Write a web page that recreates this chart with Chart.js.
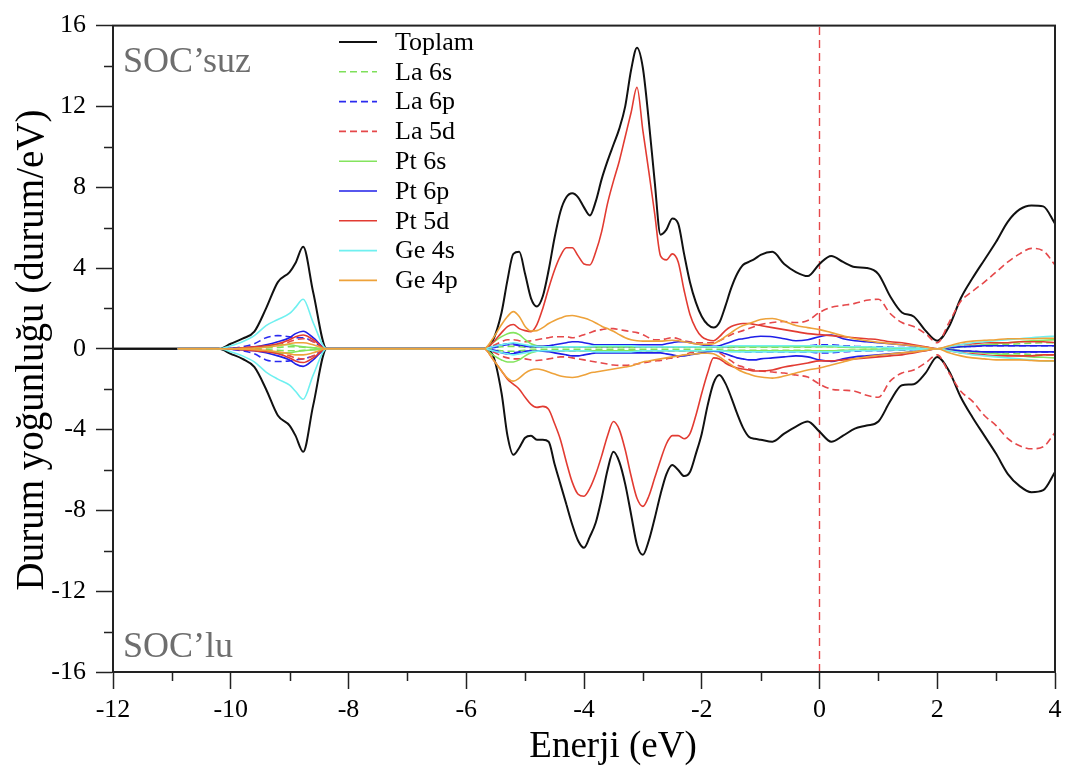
<!DOCTYPE html>
<html lang="tr">
<head>
<meta charset="UTF-8">
<title>Durum yoğunluğu</title>
<script src="https://cdn.jsdelivr.net/npm/chart.js"></script>
<style>
  html, body { margin: 0; padding: 0; background: #fff; }
  #wrap { width: 1072px; height: 773px; }
</style>
</head>
<body>
<div id="wrap"><canvas id="dos"></canvas></div>
<script>
// enerji ekseni (eV) - rows: valence band | -5.7..-1.0 | -0.8..4.0
const energy = [
  -12, -10.9, -10.2, -10.0, -9.8, -9.6, -9.4, -9.2, -9.0, -8.9, -8.77, -8.6, -8.37,
  -5.7, -5.55, -5.4, -5.3,
  -5.2, -5.1, -5.0, -4.9, -4.8, -4.7, -4.6, -4.5, -4.4, -4.3,
  -4.2, -4.1, -4.0, -3.9, -3.8, -3.7, -3.6, -3.5, -3.4, -3.3,
  -3.2, -3.1, -3.0, -2.9, -2.8, -2.7, -2.6, -2.5, -2.4, -2.3,
  -2.2, -2.1, -2.0, -1.9, -1.8, -1.7, -1.6, -1.5, -1.4, -1.3,
  -1.2, -1.1, -1.0,
  -0.8, -0.6, -0.4, -0.2, 0.0, 0.2, 0.4, 0.6, 0.8, 1.0,
  1.2, 1.4, 1.6, 1.8, 2.0, 2.2, 2.4, 2.6, 2.8, 3.0,
  3.2, 3.4, 3.6, 3.8, 4.0
];

// SOC'suz (yukari) / SOC'lu (asagi, negatif)
const toplamUp = [
  0, 0, 0, 0.25, 0.5, 0.85, 2.0, 3.3, 3.8, 4.25, 5.05, 2.8, 0,
  0, 0.4, 1.8, 3.4,
  4.7, 4.8, 3.7, 2.5, 2.1, 2.6, 3.9, 5.5, 6.8, 7.5,
  7.7, 7.5, 7.0, 6.6, 7.3, 8.4, 9.3, 10.1, 10.9, 12.0,
  13.8, 14.9, 13.9, 11.3, 8.3, 5.65, 5.9, 6.45, 6.2, 4.7,
  3.3, 2.3, 1.6, 1.2, 1.05, 1.3, 2.1, 3.0, 3.7, 4.15,
  4.3, 4.45, 4.65,
  4.8, 4.2, 3.8, 3.6, 4.2, 4.6, 4.3, 4.05, 4.0, 3.7,
  2.6, 1.8, 1.6, 0.9, 0.4, 1.1, 2.5, 3.5, 4.4, 5.3,
  6.3, 6.9, 7.1, 7.05, 6.2
];
const toplamDn = [
  0, 0, 0, -0.25, -0.5, -0.9, -2.0, -3.3, -3.8, -4.3, -5.1, -2.8, 0,
  0, -0.3, -2.2, -4.3,
  -5.25, -4.9, -4.4, -4.3, -4.5, -4.5, -4.6, -5.7, -6.7, -7.7,
  -8.7, -9.5, -9.85, -9.3, -8.6, -7.4, -6.0, -5.1, -5.6, -6.7,
  -8.2, -9.7, -10.2, -9.5, -8.4, -7.2, -6.2, -5.75, -6.0, -6.3,
  -6.1, -5.2, -4.2, -2.8, -1.7, -1.3, -1.7, -2.4, -3.2, -3.9,
  -4.35, -4.45, -4.5,
  -4.6, -4.2, -3.85, -3.6, -4.1, -4.6, -4.3, -3.95, -3.8, -3.6,
  -2.6, -1.8, -1.75, -1.2, -0.4, -1.1, -2.4, -3.4, -4.3, -5.2,
  -6.2, -6.8, -7.1, -7.0, -6.1
];

const la6sUp = [
  null, 0, 0, 0, 0.01, 0.02, 0.04, 0.07, 0.1, 0.1, 0.08, 0.05, 0,
  0, 0.05, 0.1, 0.12,
  0.12, 0.1, 0.08, 0.06, 0.05, 0.05, 0.05, 0.05, 0.05, 0.05,
  0.05, 0.05, 0.05, 0.05, 0.05, 0.05, 0.05, 0.05, 0.05, 0.05,
  0.05, 0.05, 0.05, 0.05, 0.05, 0.05, 0.05, 0.05, 0.05, 0.05,
  0.05, 0.05, 0.05, 0.05, 0.05, 0.05, 0.06, 0.07, 0.08, 0.08,
  0.08, 0.08, 0.08,
  0.08, 0.08, 0.08, 0.08, 0.1, 0.1, 0.08, 0.07, 0.06, 0.05,
  0.04, 0.03, 0.02, 0.01, 0, 0.05, 0.1, 0.15, 0.18, 0.2,
  0.22, 0.25, 0.28, 0.3, 0.3
];
const la6sDn = [
  null, 0, 0, 0, -0.01, -0.02, -0.04, -0.07, -0.1, -0.1, -0.08, -0.05, 0,
  0, -0.05, -0.1, -0.12,
  -0.12, -0.1, -0.08, -0.06, -0.05, -0.05, -0.05, -0.05, -0.05, -0.05,
  -0.05, -0.05, -0.05, -0.05, -0.05, -0.05, -0.05, -0.05, -0.05, -0.05,
  -0.05, -0.05, -0.05, -0.05, -0.05, -0.05, -0.05, -0.05, -0.05, -0.05,
  -0.05, -0.05, -0.05, -0.05, -0.05, -0.05, -0.06, -0.07, -0.08, -0.08,
  -0.08, -0.08, -0.08,
  -0.08, -0.08, -0.08, -0.08, -0.1, -0.1, -0.08, -0.07, -0.06, -0.05,
  -0.04, -0.03, -0.02, -0.01, 0, -0.05, -0.1, -0.15, -0.18, -0.2,
  -0.22, -0.25, -0.28, -0.3, -0.3
];

const la6pUp = [
  null, 0, 0, 0.03, 0.1, 0.25, 0.55, 0.65, 0.6, 0.55, 0.55, 0.35, 0,
  0, 0.05, 0.15, 0.2,
  0.2, 0.15, 0.12, 0.1, 0.1, 0.1, 0.1, 0.1, 0.1, 0.1,
  0.1, 0.1, 0.1, 0.1, 0.1, 0.1, 0.1, 0.1, 0.1, 0.1,
  0.1, 0.1, 0.1, 0.1, 0.1, 0.1, 0.1, 0.1, 0.1, 0.1,
  0.1, 0.1, 0.1, 0.1, 0.1, 0.1, 0.1, 0.1, 0.12, 0.15,
  0.15, 0.15, 0.15,
  0.15, 0.15, 0.15, 0.15, 0.2, 0.2, 0.15, 0.12, 0.1, 0.1,
  0.08, 0.06, 0.05, 0.03, 0, 0.05, 0.1, 0.12, 0.15, 0.15,
  0.15, 0.15, 0.15, 0.15, 0.15
];
const la6pDn = [
  null, 0, 0, -0.03, -0.1, -0.25, -0.55, -0.63, -0.6, -0.55, -0.5, -0.35, 0,
  0, -0.05, -0.15, -0.2,
  -0.2, -0.15, -0.12, -0.1, -0.1, -0.1, -0.1, -0.1, -0.1, -0.1,
  -0.1, -0.1, -0.1, -0.1, -0.1, -0.1, -0.1, -0.1, -0.1, -0.1,
  -0.1, -0.1, -0.1, -0.1, -0.1, -0.1, -0.1, -0.1, -0.1, -0.1,
  -0.1, -0.1, -0.1, -0.1, -0.1, -0.1, -0.1, -0.1, -0.12, -0.15,
  -0.15, -0.15, -0.15,
  -0.15, -0.15, -0.15, -0.15, -0.2, -0.2, -0.15, -0.12, -0.1, -0.1,
  -0.08, -0.06, -0.05, -0.03, 0, -0.05, -0.1, -0.12, -0.15, -0.15,
  -0.15, -0.15, -0.15, -0.15, -0.15
];

const la5dUp = [
  null, 0, 0, 0, 0.02, 0.05, 0.1, 0.2, 0.35, 0.45, 0.5, 0.35, 0,
  0, 0.15, 0.35, 0.45,
  0.45, 0.4, 0.35, 0.4, 0.45, 0.5, 0.55, 0.6, 0.6, 0.6,
  0.55, 0.6, 0.7, 0.8, 0.9, 0.95, 1.0, 1.0, 0.95, 0.9,
  0.85, 0.8, 0.7, 0.55, 0.45, 0.45, 0.5, 0.55, 0.5, 0.4,
  0.35, 0.3, 0.3, 0.3, 0.3, 0.4, 0.55, 0.7, 0.8, 0.9,
  1.0, 1.1, 1.2,
  1.3, 1.35, 1.3, 1.4, 1.8, 2.05, 2.15, 2.25, 2.4, 2.45,
  1.75, 1.3, 1.1, 0.75, 0.3, 1.3, 2.35, 2.85, 3.3, 3.8,
  4.3, 4.7, 4.97, 4.85, 4.15
];
const la5dDn = [
  null, 0, 0, 0, -0.02, -0.05, -0.1, -0.2, -0.35, -0.45, -0.5, -0.35, 0,
  0, -0.15, -0.35, -0.45,
  -0.5, -0.5, -0.5, -0.55, -0.58, -0.55, -0.5, -0.45, -0.4, -0.4,
  -0.45, -0.5, -0.55, -0.6, -0.65, -0.7, -0.75, -0.8, -0.82, -0.82,
  -0.8, -0.75, -0.7, -0.65, -0.6, -0.58, -0.5, -0.45, -0.4, -0.3,
  -0.2, -0.15, -0.1, -0.1, -0.1, -0.2, -0.4, -0.6, -0.8, -0.9,
  -1.0, -1.05, -1.1,
  -1.15, -1.2, -1.3, -1.4, -1.75, -2.0, -2.05, -2.1, -2.3, -2.4,
  -1.6, -1.2, -1.05, -0.7, -0.3, -1.2, -2.1, -2.6, -3.3, -3.8,
  -4.45, -4.8, -4.95, -4.85, -4.15
];

const pt6sUp = [
  null, 0, 0, 0.01, 0.03, 0.06, 0.12, 0.2, 0.2, 0.15, 0.1, 0.05, 0,
  0, 0.3, 0.6, 0.75,
  0.8, 0.7, 0.45, 0.25, 0.15, 0.12, 0.1, 0.1, 0.1, 0.1,
  0.1, 0.1, 0.1, 0.1, 0.1, 0.1, 0.1, 0.1, 0.1, 0.1,
  0.1, 0.1, 0.1, 0.1, 0.1, 0.1, 0.1, 0.1, 0.1, 0.1,
  0.1, 0.1, 0.1, 0.1, 0.1, 0.1, 0.1, 0.1, 0.1, 0.1,
  0.1, 0.1, 0.1,
  0.1, 0.1, 0.1, 0.1, 0.1, 0.1, 0.08, 0.07, 0.06, 0.05,
  0.04, 0.03, 0.02, 0.01, 0, 0.05, 0.1, 0.15, 0.2, 0.25,
  0.3, 0.35, 0.4, 0.42, 0.45
];
const pt6sDn = [
  null, 0, 0, -0.01, -0.03, -0.06, -0.12, -0.2, -0.2, -0.15, -0.1, -0.05, 0,
  0, -0.3, -0.55, -0.65,
  -0.65, -0.55, -0.35, -0.2, -0.12, -0.1, -0.1, -0.1, -0.1, -0.1,
  -0.1, -0.1, -0.1, -0.1, -0.1, -0.1, -0.1, -0.1, -0.1, -0.1,
  -0.1, -0.1, -0.1, -0.1, -0.1, -0.1, -0.1, -0.1, -0.1, -0.1,
  -0.1, -0.1, -0.1, -0.1, -0.1, -0.1, -0.1, -0.1, -0.1, -0.1,
  -0.1, -0.1, -0.1,
  -0.1, -0.1, -0.1, -0.1, -0.1, -0.1, -0.08, -0.07, -0.06, -0.05,
  -0.04, -0.03, -0.02, -0.01, 0, -0.05, -0.1, -0.15, -0.2, -0.25,
  -0.3, -0.35, -0.4, -0.42, -0.45
];

const pt6pUp = [
  null, 0, 0, 0.02, 0.05, 0.1, 0.2, 0.35, 0.55, 0.75, 0.87, 0.55, 0,
  0, 0.1, 0.2, 0.25,
  0.25, 0.2, 0.15, 0.12, 0.12, 0.12, 0.15, 0.2, 0.25, 0.3,
  0.35, 0.35, 0.3, 0.25, 0.2, 0.2, 0.2, 0.2, 0.2, 0.2,
  0.2, 0.2, 0.2, 0.2, 0.2, 0.2, 0.25, 0.3, 0.35, 0.35,
  0.3, 0.25, 0.2, 0.15, 0.12, 0.15, 0.25, 0.35, 0.45, 0.5,
  0.55, 0.6, 0.62,
  0.6, 0.5, 0.4, 0.45, 0.6, 0.68, 0.5, 0.4, 0.35, 0.3,
  0.25, 0.2, 0.15, 0.08, 0, 0.05, 0.1, 0.12, 0.15, 0.15,
  0.15, 0.15, 0.15, 0.15, 0.15
];
const pt6pDn = [
  null, 0, 0, -0.02, -0.05, -0.1, -0.2, -0.35, -0.55, -0.75, -0.87, -0.55, 0,
  0, -0.1, -0.2, -0.25,
  -0.25, -0.2, -0.15, -0.12, -0.12, -0.12, -0.15, -0.2, -0.25, -0.3,
  -0.35, -0.35, -0.3, -0.25, -0.2, -0.2, -0.2, -0.2, -0.2, -0.2,
  -0.2, -0.2, -0.2, -0.2, -0.2, -0.2, -0.25, -0.3, -0.35, -0.35,
  -0.3, -0.25, -0.2, -0.15, -0.12, -0.15, -0.25, -0.35, -0.45, -0.5,
  -0.55, -0.55, -0.5,
  -0.45, -0.4, -0.35, -0.4, -0.55, -0.63, -0.5, -0.4, -0.35, -0.3,
  -0.25, -0.2, -0.15, -0.08, 0, -0.05, -0.1, -0.12, -0.15, -0.15,
  -0.15, -0.15, -0.15, -0.15, -0.15
];

const pt5dUp = [
  null, 0, 0, 0.01, 0.05, 0.1, 0.15, 0.25, 0.45, 0.6, 0.68, 0.45, 0,
  0, 0.3, 0.8, 1.1,
  1.2, 1.0, 0.9, 0.85, 1.2, 2.0, 3.0, 3.9, 4.6, 5.0,
  5.0, 4.6, 4.2, 4.15, 4.8, 5.8, 7.2, 8.3, 9.3, 10.5,
  11.7, 12.95, 10.8, 8.8, 6.7, 4.6, 4.4, 4.7, 4.3, 2.9,
  1.7, 1.0, 0.6, 0.45, 0.4, 0.6, 0.9, 1.1, 1.2, 1.25,
  1.25, 1.2, 1.15,
  1.05, 0.95, 0.85, 0.75, 0.7, 0.65, 0.6, 0.55, 0.5, 0.45,
  0.35, 0.3, 0.2, 0.1, 0, 0.1, 0.2, 0.25, 0.3, 0.3,
  0.3, 0.35, 0.35, 0.35, 0.3
];
const pt5dDn = [
  null, 0, 0, -0.01, -0.05, -0.1, -0.15, -0.25, -0.45, -0.6, -0.68, -0.45, 0,
  0, -0.5, -1.1, -1.5,
  -1.75, -2.0, -2.4, -2.75, -2.9, -2.85, -3.0, -3.7, -4.5, -5.6,
  -6.6, -7.2, -7.3, -6.9, -6.2, -5.3, -4.3, -3.6, -4.0, -5.0,
  -6.3, -7.4, -7.8, -7.3, -6.4, -5.5, -4.7, -4.3, -4.3, -4.45,
  -4.2, -3.3, -2.2, -1.2, -0.45, -0.5, -0.7, -0.85, -0.95, -1.0,
  -1.05, -1.1, -1.1,
  -1.05, -0.9, -0.8, -0.7, -0.6, -0.6, -0.55, -0.5, -0.45, -0.4,
  -0.35, -0.3, -0.2, -0.1, 0, -0.1, -0.2, -0.25, -0.3, -0.35,
  -0.35, -0.35, -0.35, -0.3, -0.3
];

const ge4sUp = [
  null, 0, 0, 0.15, 0.35, 0.65, 1.15, 1.45, 1.75, 2.05, 2.45, 1.3, 0,
  0, 0.1, 0.2, 0.25,
  0.3, 0.25, 0.2, 0.15, 0.12, 0.1, 0.1, 0.1, 0.1, 0.1,
  0.1, 0.1, 0.1, 0.12, 0.15, 0.15, 0.15, 0.15, 0.15, 0.15,
  0.15, 0.12, 0.1, 0.1, 0.1, 0.1, 0.1, 0.1, 0.1, 0.1,
  0.1, 0.1, 0.1, 0.1, 0.1, 0.1, 0.12, 0.15, 0.15, 0.15,
  0.15, 0.15, 0.15,
  0.15, 0.15, 0.15, 0.15, 0.15, 0.15, 0.12, 0.1, 0.1, 0.08,
  0.06, 0.05, 0.04, 0.02, 0, 0.1, 0.2, 0.3, 0.35, 0.4,
  0.45, 0.5, 0.55, 0.6, 0.62
];
const ge4sDn = [
  null, 0, 0, -0.15, -0.35, -0.65, -1.15, -1.5, -1.8, -2.1, -2.5, -1.3, 0,
  0, -0.1, -0.2, -0.25,
  -0.3, -0.25, -0.2, -0.15, -0.12, -0.1, -0.1, -0.1, -0.1, -0.1,
  -0.1, -0.1, -0.1, -0.12, -0.15, -0.15, -0.15, -0.15, -0.15, -0.15,
  -0.15, -0.12, -0.1, -0.1, -0.1, -0.1, -0.1, -0.1, -0.1, -0.1,
  -0.1, -0.1, -0.1, -0.1, -0.1, -0.1, -0.12, -0.15, -0.15, -0.15,
  -0.15, -0.15, -0.15,
  -0.15, -0.15, -0.15, -0.15, -0.15, -0.15, -0.12, -0.1, -0.1, -0.08,
  -0.06, -0.05, -0.04, -0.02, 0, -0.1, -0.2, -0.3, -0.35, -0.4,
  -0.45, -0.5, -0.55, -0.6, -0.62
];

const ge4pUp = [
  null, 0, 0, 0, 0.02, 0.04, 0.08, 0.15, 0.25, 0.3, 0.3, 0.2, 0,
  0, 0.5, 1.2, 1.6,
  1.84, 1.6, 1.1, 0.88, 0.9, 1.05, 1.25, 1.4, 1.52, 1.62,
  1.65, 1.6, 1.52, 1.42, 1.28, 1.12, 1.0, 0.87, 0.7, 0.55,
  0.45, 0.4, 0.38, 0.38, 0.38, 0.38, 0.4, 0.42, 0.4, 0.35,
  0.3, 0.25, 0.22, 0.22, 0.25, 0.4, 0.6, 0.8, 1.0, 1.15,
  1.25, 1.35, 1.45,
  1.5, 1.35, 1.15, 1.05, 0.95, 0.8, 0.65, 0.5, 0.4, 0.32,
  0.26, 0.2, 0.15, 0.08, 0, 0.15, 0.3, 0.38, 0.42, 0.45,
  0.5, 0.5, 0.5, 0.52, 0.52
];
const ge4pDn = [
  null, 0, 0, 0, -0.02, -0.04, -0.08, -0.15, -0.25, -0.3, -0.3, -0.2, 0,
  0, -0.5, -1.1, -1.45,
  -1.6, -1.45, -1.2, -1.05, -1.0, -1.05, -1.15, -1.25, -1.35, -1.4,
  -1.42, -1.38, -1.3, -1.2, -1.15, -1.1, -1.05, -1.0, -0.95, -0.9,
  -0.85, -0.75, -0.65, -0.6, -0.55, -0.5, -0.45, -0.4, -0.35, -0.3,
  -0.28, -0.25, -0.22, -0.22, -0.25, -0.4, -0.6, -0.8, -1.0, -1.15,
  -1.25, -1.35, -1.4,
  -1.45, -1.35, -1.2, -1.05, -0.95, -0.8, -0.65, -0.5, -0.4, -0.32,
  -0.26, -0.2, -0.15, -0.08, 0, -0.2, -0.35, -0.45, -0.5, -0.55,
  -0.55, -0.55, -0.58, -0.6, -0.6
];

// eksen ve etiketler
const xMin = -12, xMax = 4, xStep = 2;
const yMin = -16, yMax = 16, yStep = 4;
const xMinorTicks = [-11, -9, -7, -5, -3, -1, 1, 3];
const yMinorTicks = [-14, -10, -6, -2, 2, 6, 10, 14];
const fermiLevel = 0;

const seriesLabels = ['Toplam', 'La 6s', 'La 6p', 'La 5d', 'Pt 6s', 'Pt 6p', 'Pt 5d', 'Ge 4s', 'Ge 4p'];
const seriesUp = [toplamUp, la6sUp, la6pUp, la5dUp, pt6sUp, pt6pUp, pt5dUp, ge4sUp, ge4pUp];
const seriesDn = [toplamDn, la6sDn, la6pDn, la5dDn, pt6sDn, pt6pDn, pt5dDn, ge4sDn, ge4pDn];

// stil
const seriesColors = ['#111111', '#7ee05a', '#2a2af0', '#e5484a', '#84e45e', '#1f1fe8', '#e23b32', '#6ff0f0', '#eea23a'];
const seriesDashed = [false, true, true, true, false, false, false, false, false];
const seriesWidth = [2, 1.6, 1.6, 1.6, 1.6, 1.6, 1.6, 1.6, 1.6];
const serif = '"Liberation Serif", "Times New Roman", Times, serif';

seriesUp.concat(seriesDn).forEach((s, i) => {
  if (s.length !== energy.length) throw new Error('length mismatch in series ' + i + ': ' + s.length);
});

function toPoints(vals) {
  return energy.map((e, i) => ({ x: e, y: vals[i] })).filter(p => p.y !== null);
}

const datasets = [];
seriesLabels.forEach((name, i) => {
  [seriesUp[i], seriesDn[i]].forEach((vals, k) => {
    datasets.push({
      label: k === 0 ? name : name + ' (SOC)',
      data: toPoints(vals),
      borderColor: seriesColors[i],
      borderWidth: seriesWidth[i],
      borderDash: seriesDashed[i] ? [7, 4] : [],
      pointRadius: 0,
      fill: false,
      cubicInterpolationMode: 'monotone',
      order: seriesLabels.length - 1 - i
    });
  });
});
// Fermi seviyesi
datasets.push({
  label: 'EF',
  data: [{ x: fermiLevel, y: yMin }, { x: fermiLevel, y: yMax }],
  borderColor: '#e5484a',
  borderWidth: 1.4,
  borderDash: [8, 5],
  pointRadius: 0,
  tension: 0,
  order: 20
});

const dosExtras = {
  id: 'dosExtras',
  afterDraw(chart) {
    const { ctx, chartArea: a, scales: { x, y } } = chart;
    ctx.save();

    // cerceve
    ctx.strokeStyle = '#222';
    ctx.lineWidth = 2;
    ctx.strokeRect(a.left, a.top, a.right - a.left, a.bottom - a.top);

    // ara tikler
    ctx.lineWidth = 1.5;
    ctx.beginPath();
    xMinorTicks.forEach(v => {
      const p = Math.round(x.getPixelForValue(v)) + 0.5;
      ctx.moveTo(p, a.bottom);
      ctx.lineTo(p, a.bottom + 9);
    });
    yMinorTicks.forEach(v => {
      const p = Math.round(y.getPixelForValue(v)) + 0.5;
      ctx.moveTo(a.left - 9, p);
      ctx.lineTo(a.left, p);
    });
    ctx.stroke();

    // SOC etiketleri
    ctx.fillStyle = '#6e6e6e';
    ctx.font = '36px ' + serif;
    ctx.textAlign = 'left';
    ctx.textBaseline = 'alphabetic';
    ctx.fillText('SOC\u2019suz', a.left + 10, a.top + 46);
    ctx.fillText('SOC\u2019lu', a.left + 10, a.bottom - 15);

    // lejant
    ctx.font = '26px ' + serif;
    ctx.fillStyle = '#000';
    ctx.textBaseline = 'middle';
    seriesLabels.forEach((name, i) => {
      const ly = 42 + i * 29.8;
      ctx.strokeStyle = seriesColors[i];
      ctx.lineWidth = seriesWidth[i];
      ctx.setLineDash(seriesDashed[i] ? [7, 4] : []);
      ctx.beginPath();
      ctx.moveTo(339, ly);
      ctx.lineTo(377, ly);
      ctx.stroke();
      ctx.fillText(name, 395, ly + 1);
    });
    ctx.setLineDash([]);

    // eksen basliklari
    ctx.textAlign = 'center';
    ctx.textBaseline = 'alphabetic';
    ctx.font = '37px ' + serif;
    ctx.fillText('Enerji (eV)', 613, 757);
    ctx.font = '39px ' + serif;
    ctx.translate(43, 350);
    ctx.rotate(-Math.PI / 2);
    ctx.fillText('Durum yoğunluğu (durum/eV)', 0, 0);

    ctx.restore();
  }
};

new Chart(document.getElementById('dos'), {
  type: 'line',
  data: { datasets },
  plugins: [dosExtras],
  options: {
    responsive: true,
    maintainAspectRatio: false,
    animation: false,
    devicePixelRatio: 1,
    layout: { padding: { top: 10, right: 17, left: 0, bottom: 0 } },
    plugins: { legend: { display: false }, tooltip: { enabled: false } },
    scales: {
      x: {
        type: 'linear',
        min: xMin,
        max: xMax,
        afterFit: s => { s.height = 101; },
        border: { display: true, color: '#222', width: 2 },
        grid: { drawOnChartArea: false, tickLength: 17, tickWidth: 1.5, tickColor: '#222' },
        ticks: { stepSize: xStep, autoSkip: false, maxRotation: 0, padding: 6, color: '#000', font: { family: serif, size: 26 } }
      },
      y: {
        type: 'linear',
        min: yMin,
        max: yMax,
        afterFit: s => { s.width = 113; },
        border: { display: true, color: '#222', width: 2 },
        grid: { drawOnChartArea: false, tickLength: 17, tickWidth: 1.5, tickColor: '#222' },
        ticks: { stepSize: yStep, autoSkip: false, padding: 10, color: '#000', font: { family: serif, size: 26 } }
      }
    }
  }
});
</script>
</body>
</html>
